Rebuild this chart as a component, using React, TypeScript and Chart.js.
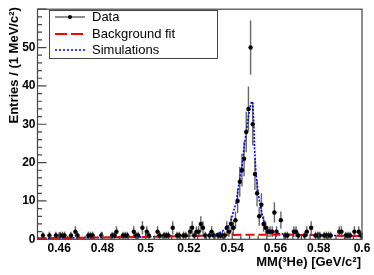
import { useEffect, useRef } from 'react';
import { Chart, registerables } from 'chart.js';

Chart.register(...registerables);

// Histogram binning (1 MeV bins from 0.45 to 0.60 GeV/c^2)
const binLow = 0.45;
const binWidth = 0.001;

// Entries per bin
const counts = [
  0, 0, 1, 0, 0, 1, 0, 0, 1, 0,
  1, 1, 1, 0, 0, 1, 0, 2, 1, 0,
  0, 0, 0, 1, 1, 1, 0, 0, 0, 1,
  0, 0, 0, 0, 1, 1, 2, 0, 0, 1,
  1, 1, 0, 0, 2, 1, 1, 0, 3, 0,
  2, 1, 0, 0, 0, 2, 1, 0, 1, 1,
  1, 0, 3, 0, 1, 1, 0, 1, 1, 0,
  2, 3, 1, 2, 2, 4, 3, 1, 0, 1,
  2, 1, 0, 1, 1, 1, 1, 3, 2, 4,
  3, 5, 10, 15, 18, 21, 28, 34, 50, 30,
  17, 12, 6, 9, 4, 3, 2, 2, 2, 7,
  2, 0, 5, 0, 1, 1, 0, 0, 2, 2,
  1, 0, 0, 1, 2, 0, 3, 0, 1, 1,
  1, 0, 1, 1, 1, 1, 0, 0, 0, 2,
  2, 0, 1, 1, 1, 0, 2, 0, 2, 1,
];

// Background fit (red dashed)
const fitX = [0.45, 0.47, 0.49, 0.51, 0.53, 0.55, 0.57, 0.59, 0.6];
const fitY = [0.25, 0.4, 0.55, 0.75, 1.0, 1.2, 1.15, 0.95, 0.85];

// Simulations (blue dotted)
const simX = [
  0.45, 0.47, 0.49, 0.51, 0.525, 0.53, 0.534, 0.536, 0.538, 0.5395,
  0.5405, 0.5418, 0.543, 0.5445, 0.5455, 0.5465, 0.5475, 0.5485, 0.549, 0.5495,
  0.55, 0.5503, 0.551, 0.5518, 0.5526, 0.5535, 0.5545, 0.5555, 0.557, 0.559,
  0.561, 0.565, 0.57, 0.58, 0.59, 0.6,
];
const simY = [
  0.25, 0.4, 0.55, 0.75, 0.95, 1.05, 1.6, 2.3, 3.3, 5,
  7.2, 9.4, 14, 19, 24, 28, 32, 35, 36, 35.5,
  30, 24, 17, 13, 10, 7.5, 5, 3.5, 2.5, 1.9,
  1.5, 1.3, 1.2, 1.05, 0.95, 0.85,
];

const xTicks = [0.46, 0.48, 0.5, 0.52, 0.54, 0.56, 0.58, 0.6];
const yTicks = [0, 10, 20, 30, 40, 50];

const xTitle = 'MM(³He) [GeV/c²]';
const yTitle = 'Entries / (1 MeV/c²)';
const legendLabels = ['Data', 'Background fit', 'Simulations'];

const FONT = '"Liberation Sans", Arial, Helvetica, sans-serif';

const rootPlugin = {
  id: 'rootStyle',
  beforeDatasetsDraw(chart: any) {
    const { ctx, scales } = chart;
    const x = scales.x;
    const y = scales.y;
    ctx.save();
    ctx.strokeStyle = '#666';
    ctx.lineWidth = 1.4;
    counts.forEach((c, i) => {
      if (c <= 0) return;
      const e = Math.sqrt(c);
      const px = x.getPixelForValue(binLow + (i + 0.5) * binWidth);
      ctx.beginPath();
      ctx.moveTo(px, y.getPixelForValue(Math.max(0, c - e)));
      ctx.lineTo(px, y.getPixelForValue(c + e));
      ctx.stroke();
    });
    ctx.restore();
  },
  afterDraw(chart: any) {
    const { ctx, chartArea, scales } = chart;
    const x = scales.x;
    const y = scales.y;
    const { left, right, top, bottom } = chartArea;
    ctx.save();
    // frame
    ctx.strokeStyle = '#444';
    ctx.lineWidth = 1.2;
    ctx.strokeRect(left, top, right - left, bottom - top);
    // y ticks (inside)
    ctx.beginPath();
    for (let v = 0; v <= 60; v += 2) {
      const py = y.getPixelForValue(v);
      if (py < top) continue;
      const len = v % 10 === 0 ? 9 : 4.5;
      ctx.moveTo(left, py);
      ctx.lineTo(left + len, py);
    }
    // x ticks (inside)
    for (let k = 0; k <= 40; k++) {
      const v = 0.452 + k * 0.004;
      if (v > 0.6001) break;
      const px = x.getPixelForValue(v);
      const isMajor = Math.abs(((v - 0.46) / 0.02) - Math.round((v - 0.46) / 0.02)) < 1e-6;
      const len = isMajor ? 7 : 3.5;
      ctx.moveTo(px, bottom);
      ctx.lineTo(px, bottom - len);
    }
    ctx.stroke();

    // axis titles
    ctx.fillStyle = '#000';
    ctx.font = `bold 13px ${FONT}`;
    ctx.textAlign = 'right';
    ctx.textBaseline = 'alphabetic';
    ctx.fillText(xTitle, right - 1, 266);
    ctx.save();
    ctx.translate(17.5, top - 2);
    ctx.rotate(-Math.PI / 2);
    ctx.textAlign = 'right';
    ctx.fillText(yTitle, 0, 0);
    ctx.restore();

    // legend
    const lx = 49, ly = 10, lw = 168, lh = 48;
    ctx.fillStyle = '#fff';
    ctx.fillRect(lx, ly, lw, lh);
    ctx.strokeStyle = '#444';
    ctx.lineWidth = 1;
    ctx.strokeRect(lx + 0.5, ly + 0.5, lw, lh);
    const rows = [17, 34, 50];
    // Data symbol
    ctx.strokeStyle = '#444';
    ctx.lineWidth = 1.2;
    ctx.beginPath();
    ctx.moveTo(55, rows[0]);
    ctx.lineTo(85, rows[0]);
    ctx.stroke();
    ctx.fillStyle = '#000';
    ctx.beginPath();
    ctx.arc(70, rows[0], 2, 0, Math.PI * 2);
    ctx.fill();
    // Background fit symbol
    ctx.strokeStyle = '#ff0000';
    ctx.lineWidth = 2;
    ctx.setLineDash([12, 4]);
    ctx.beginPath();
    ctx.moveTo(55, rows[1]);
    ctx.lineTo(85, rows[1]);
    ctx.stroke();
    // Simulations symbol
    ctx.strokeStyle = '#0000ff';
    ctx.lineWidth = 1.5;
    ctx.setLineDash([2, 2]);
    ctx.beginPath();
    ctx.moveTo(55, rows[2]);
    ctx.lineTo(85, rows[2]);
    ctx.stroke();
    ctx.setLineDash([]);
    ctx.fillStyle = '#000';
    ctx.font = `13px ${FONT}`;
    ctx.textAlign = 'left';
    ctx.textBaseline = 'middle';
    legendLabels.forEach((t, i) => ctx.fillText(t, 92, rows[i] + 0.5));
    ctx.restore();
  },
};

export default function App() {
  const ref = useRef<HTMLCanvasElement | null>(null);
  useEffect(() => {
    if (!ref.current) return;
    const dataPts = counts
      .map((c, i) => ({ x: binLow + (i + 0.5) * binWidth, y: c }))
      .filter((p) => p.y > 0);
    const chart = new Chart(ref.current, {
      type: 'line',
      data: {
        datasets: [
          {
            label: legendLabels[0],
            data: dataPts,
            showLine: false,
            pointRadius: 2.2,
            pointBackgroundColor: '#000',
            pointBorderWidth: 0,
            borderColor: '#000',
          },
          {
            label: legendLabels[1],
            data: fitX.map((v, i) => ({ x: v, y: fitY[i] })),
            borderColor: '#ff0000',
            borderWidth: 2,
            borderDash: [9, 4],
            pointRadius: 0,
            cubicInterpolationMode: 'monotone',
            fill: false,
          },
          {
            label: legendLabels[2],
            data: simX.map((v, i) => ({ x: v, y: simY[i] })),
            borderColor: '#0000ff',
            borderWidth: 1.6,
            borderDash: [2, 1.5],
            pointRadius: 0,
            tension: 0,
            fill: false,
          },
        ],
      },
      options: {
        responsive: false,
        animation: false,
        devicePixelRatio: 1,
        layout: { padding: { top: 9, right: 12, left: 0, bottom: 0 } },
        plugins: { legend: { display: false }, tooltip: { enabled: false } },
        scales: {
          x: {
            type: 'linear',
            min: 0.45,
            max: 0.6,
            grid: { display: false, drawTicks: false },
            border: { display: false },
            afterBuildTicks: (s: any) => {
              s.ticks = xTicks.map((v) => ({ value: v }));
            },
            afterFit: (s: any) => {
              s.height = 35.7;
            },
            ticks: {
              autoSkip: false,
              maxRotation: 0,
              padding: 2,
              color: '#000',
              font: { family: FONT, size: 12, weight: 'bold' },
              callback: (v: any) => String(parseFloat(Number(v).toFixed(2))),
            },
          },
          y: {
            type: 'linear',
            min: 0,
            max: 60,
            grid: { display: false, drawTicks: false },
            border: { display: false },
            afterBuildTicks: (s: any) => {
              s.ticks = yTicks.map((v) => ({ value: v }));
            },
            afterFit: (s: any) => {
              s.width = 37.5;
            },
            ticks: {
              autoSkip: false,
              padding: 2,
              color: '#000',
              font: { family: FONT, size: 12, weight: 'bold' },
              callback: (v: any) => String(v),
            },
          },
        },
      },
      plugins: [rootPlugin],
    } as any);
    return () => chart.destroy();
  }, []);
  return (
    <div style={{ position: 'absolute', left: 0, top: 0, width: 374, height: 275, background: '#fff' }}>
      <canvas ref={ref} width={374} height={275} />
    </div>
  );
}
